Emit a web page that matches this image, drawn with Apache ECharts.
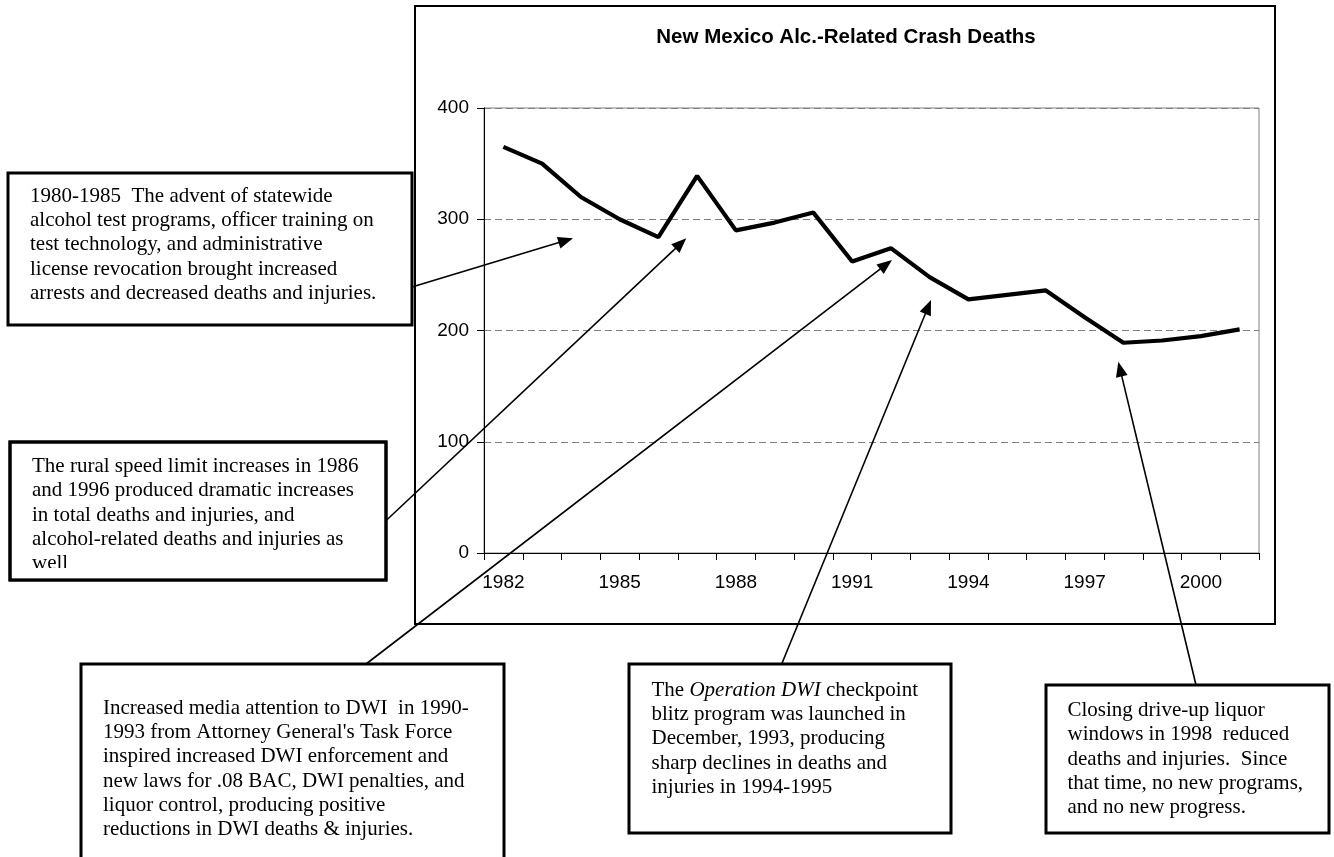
<!DOCTYPE html>
<html>
<head>
<meta charset="utf-8">
<script src="https://cdn.jsdelivr.net/npm/echarts@6/dist/echarts.min.js"></script>
<style>
html,body{margin:0;padding:0;background:#fff;}
#c{width:1334px;height:857px;}
</style>
</head>
<body>
<div id="c"></div>
<script>
var years = ['1982','1983','1984','1985','1986','1987','1988','1989','1990','1991','1992','1993','1994','1995','1996','1997','1998','1999','2000','2001'];
var deaths = [365, 350, 320, 300, 284, 339, 290, 297, 306, 262, 274, 248, 228, 232, 236, 212, 189, 191, 195, 201];
var yTicks = [0, 100, 200, 300, 400];
var title = 'New Mexico Alc.-Related Crash Deaths';

var note1 = ['1980-1985  The advent of statewide','alcohol test programs, officer training on','test technology, and administrative','license revocation brought increased','arrests and decreased deaths and injuries.'];
var note2 = ['The rural speed limit increases in 1986','and 1996 produced dramatic increases','in total deaths and injuries, and','alcohol-related deaths and injuries as','well'];
var note3 = ['Increased media attention to DWI  in 1990-','1993 from Attorney General\'s Task Force','inspired increased DWI enforcement and','new laws for .08 BAC, DWI penalties, and','liquor control, producing positive','reductions in DWI deaths & injuries.'];
var note4 = ['The {i|Operation DWI} checkpoint','blitz program was launched in','December, 1993, producing','sharp declines in deaths and','injuries in 1994-1995'];
var note5 = ['Closing drive-up liquor','windows in 1998  reduced','deaths and injuries.  Since','that time, no new programs,','and no new progress.'];

var SERIF = '"Liberation Serif","Times New Roman",serif';
var SANS = '"Liberation Sans",Arial,sans-serif';

function box(x, y, w, h, z) {
  return {type:'rect', z: z, shape:{x:x, y:y, width:w, height:h}, style:{fill:'#fff', stroke:'#000', lineWidth:3}};
}
function txt(x, y, lines, z) {
  return {type:'text', z: z, style:{x:x, y:y, text:lines.join('\n'), fill:'#000', fontFamily:SERIF, fontSize:21, lineHeight:24.3, verticalAlign:'top', align:'left',
    rich:{i:{fontStyle:'italic', fontFamily:SERIF, fontSize:21, lineHeight:24.3, fill:'#000'}}}};
}
function arrow(x1, y1, x2, y2, z) {
  var dx = x2 - x1, dy = y2 - y1, L = Math.sqrt(dx*dx + dy*dy);
  var ux = dx / L, uy = dy / L, len = 15, hw = 6;
  var bx = x2 - ux*len, by = y2 - uy*len;
  return [
    {type:'line', z:z, shape:{x1:x1, y1:y1, x2:bx + ux*2, y2:by + uy*2}, style:{stroke:'#000', lineWidth:1.6}},
    {type:'polygon', z:z, shape:{points:[[x2,y2],[bx - uy*hw, by + ux*hw],[bx + uy*hw, by - ux*hw]]}, style:{fill:'#000'}}
  ];
}

var graphics = [];
graphics.push({type:'rect', z:-5, shape:{x:415, y:6, width:860, height:618}, style:{fill:'none', stroke:'#000', lineWidth:2}});
graphics.push({type:'text', z:5, style:{x:846, y:37, text:title, fill:'#000', fontFamily:SANS, fontSize:20.5, fontWeight:'bold', align:'center', verticalAlign:'middle'}});

graphics.push(box(8, 173, 404, 152, 100));
graphics.push(txt(30, 184, note1, 101));

graphics.push(box(10, 442, 376, 138, 100));
graphics.push(txt(32, 454.5, note2, 101));
graphics.push({type:'rect', z:102, shape:{x:12, y:568, width:372, height:10.5}, style:{fill:'#fff'}});
graphics.push({type:'rect', z:103, shape:{x:10, y:442, width:376, height:138}, style:{fill:'none', stroke:'#000', lineWidth:3}});

graphics.push(box(81, 664, 423, 230, 100));
graphics.push(txt(103, 696, note3, 101));

graphics.push(box(629, 664, 322, 169, 100));
graphics.push(txt(651.5, 678, note4, 101));

graphics.push(box(1046, 685, 283, 148, 100));
graphics.push(txt(1067.5, 698.5, note5, 101));

graphics = graphics.concat(arrow(412, 287, 573, 238.3, 104));
graphics = graphics.concat(arrow(386.7, 520, 686.3, 238.3, 104));
graphics = graphics.concat(arrow(366.7, 663.5, 892, 260, 104));
graphics = graphics.concat(arrow(781.7, 664, 931, 300, 104));
graphics = graphics.concat(arrow(1196, 685, 1118.3, 361.7, 104));

var chart = echarts.init(document.getElementById('c'), null, {renderer:'canvas'});
chart.setOption({
  backgroundColor:'#fff',
  animation:false,
  grid:{left:484, right:75, top:108, bottom:304, show:true, borderColor:'#808080', borderWidth:1, backgroundColor:'transparent'},
  xAxis:{
    type:'category', data:years, boundaryGap:true,
    axisLine:{lineStyle:{color:'#000', width:1}},
    axisTick:{show:true, interval:0, length:7, lineStyle:{color:'#000'}},
    axisLabel:{interval:2, color:'#000', fontFamily:SANS, fontSize:19, margin:20},
    splitLine:{show:false}
  },
  yAxis:{
    type:'value', min:yTicks[0], max:yTicks[yTicks.length-1], interval:100,
    axisLine:{show:true, lineStyle:{color:'#000', width:1}},
    axisTick:{show:true, length:7, lineStyle:{color:'#000'}},
    axisLabel:{color:'#000', fontFamily:SANS, fontSize:19, margin:15},
    splitLine:{show:true, lineStyle:{color:'#808080', type:[7,4], width:1}}
  },
  series:[{
    type:'line', data:deaths, showSymbol:false, symbol:'none',
    lineStyle:{color:'#000', width:4.2}, z:3
  }],
  graphic:graphics
});
</script>
</body>
</html>
